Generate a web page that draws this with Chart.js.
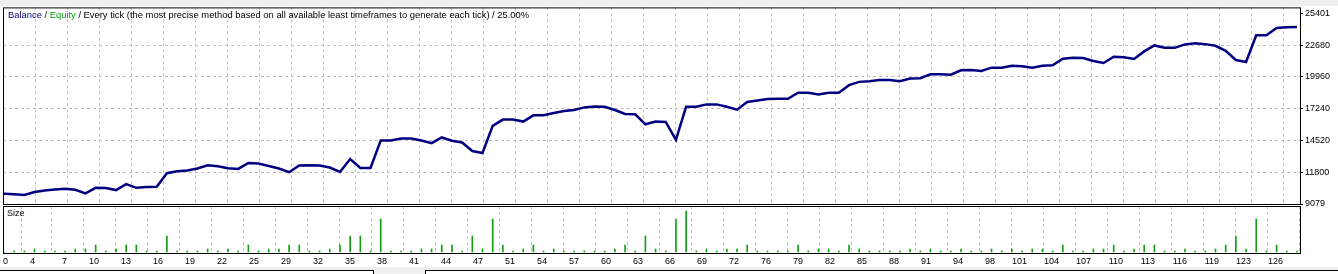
<!doctype html>
<html lang="en">
  <head>
    <meta charset="utf-8">
    <title>Balance / Equity</title>
    <style>
      * {
        margin: 0;
        padding: 0;
      }
      body {
        width: 1338px;
        height: 274px;
        background: #ffffff;
        position: relative;
        overflow: hidden;
        font-family: 'Liberation Sans', sans-serif;
      }
      canvas {
        position: absolute;
        left: 0;
        top: 0;
      }
      .topBand {
        position: absolute;
        left: 0;
        top: 0;
        width: 1338px;
        height: 6px;
        background: #f0f0f0;
      }
      .bottomBand {
        position: absolute;
        left: 0;
        top: 267px;
        width: 1338px;
        height: 7px;
        background: #f0f0f0;
      }
      .tab {
        position: absolute;
        top: 270px;
        height: 10px;
        background: #ffffff;
        border: 1px solid #000000;
      }
      .label {
        position: absolute;
        font-size: 9px;
        line-height: 11px;
        white-space: nowrap;
        color: #000000;
        z-index: 2;
      }
    </style>
  </head>
  <body>
    <div class="topBand"></div>
    <canvas id="balanceChart" width="1338" height="274"></canvas>
    <canvas id="sizeChart" width="1338" height="274"></canvas>
    <div class="label" style="left:8px;top:9px;font-size:9.4px;">
      <span style="color:#000080">Balance</span> / <span style="color:#00a000">Equity</span> / Every tick (the most precise method based on all available least timeframes to generate each tick) / 25.00%
    </div>
    <div class="label" style="left:7px;top:208px;">Size</div>
    <div class="bottomBand"></div>
    <div class="tab" style="left:-1px;width:373px;"></div>
    <div class="tab" style="left:425px;width:920px;"></div>

    <script src="https://cdn.jsdelivr.net/npm/chart.js"></script>
    <script>
    // balance after each trade
    const balance = [
      9955, 9904, 9844, 10099, 10244, 10329, 10380, 10295, 9989, 10465,
      10439, 10269, 10779, 10465, 10524, 10550, 11714, 11884, 11944, 12114,
      12394, 12309, 12139, 12080, 12590, 12539, 12335, 12114, 11799, 12369,
      12394, 12369, 12199, 11825, 12930, 12165, 12165, 14520, 14520, 14690,
      14690, 14520, 14290, 14775, 14494, 14350, 13610, 13440, 15769, 16305,
      16305, 16135, 16670, 16670, 16875, 17045, 17129, 17350, 17435, 17410,
      17129, 16790, 16755, 15905, 16135, 16109, 14579, 17410, 17410, 17606,
      17606, 17410, 17155, 17810, 17946, 18065, 18090, 18090, 18600, 18600,
      18456, 18600, 18600, 19255, 19535, 19595, 19705, 19705, 19595, 19816,
      19850, 20190, 20190, 20150, 20530, 20555, 20470, 20751, 20751, 20921,
      20870, 20751, 20921, 20955, 21516, 21601, 21575, 21320, 21150, 21686,
      21635, 21490, 22145, 22655, 22451, 22451, 22740, 22851, 22766, 22621,
      22196, 21405, 21235, 23531, 23531, 24151, 24211, 24236
    ];

    // lot size of each trade
    const lots = [
      0, 0.1, 0.1, 0.3, 0.1, 0.1, 0.1, 0.3, 0.3, 0.7,
      0.1, 0.3, 0.7, 0.7, 0.1, 0.1, 1.6, 0.1, 0.1, 0.1,
      0.3, 0.1, 0.3, 0.1, 0.7, 0.1, 0.3, 0.3, 0.7, 0.7,
      0.1, 0.1, 0.3, 0.7, 1.6, 1.6, 0.1, 3.3, 0.1, 0.1,
      0.1, 0.3, 0.3, 0.7, 0.7, 0.1, 1.6, 0.3, 3.3, 0.7,
      0.1, 0.3, 0.7, 0.1, 0.3, 0.1, 0.1, 0.1, 0.1, 0.1,
      0.3, 0.7, 0.1, 1.6, 0.3, 0.1, 3.3, 4.1, 0.1, 0.3,
      0.1, 0.3, 0.3, 0.7, 0.1, 0.1, 0.1, 0.1, 0.7, 0.1,
      0.3, 0.3, 0.1, 0.7, 0.3, 0.1, 0.1, 0.1, 0.1, 0.3,
      0.1, 0.3, 0.1, 0.1, 0.3, 0.1, 0.1, 0.3, 0.1, 0.3,
      0.1, 0.3, 0.3, 0.1, 0.7, 0.1, 0.1, 0.3, 0.3, 0.7,
      0.1, 0.3, 0.7, 0.7, 0.1, 0.1, 0.3, 0.1, 0.1, 0.3,
      0.7, 1.6, 0.3, 3.3, 0.1, 0.7, 0.1, 0.1
    ];

    const xLabels = [
      '0', '4', '7', '10', '13', '16', '19', '22', '25', '29', '32', '35', '38', '41',
      '44', '47', '51', '54', '57', '60', '63', '66', '69', '72', '76', '79', '82',
      '85', '88', '91', '94', '98', '101', '104', '107', '110', '113', '116', '119',
      '123', '126'
    ];
    const yTicks = [9079, 11800, 14520, 17240, 19960, 22680, 25401];

    const X_MIN = -0.1;
    const X_MAX = 127.3;
    const X_STEP = 3.1434;   // trades between two vertical grid lines
    const GRID = '#c0c0c0';

    Chart.defaults.font.family = "'Liberation Sans', sans-serif";
    Chart.defaults.font.size = 9;
    Chart.defaults.color = '#000000';
    Chart.defaults.animation = false;

    const frame = {
      id: 'frame',
      afterDraw(chart) {
        const a = chart.chartArea;
        const ctx = chart.ctx;
        ctx.save();
        ctx.strokeStyle = '#000000';
        ctx.lineWidth = 1;
        ctx.strokeRect(a.left + 0.5, a.top + 0.5, a.right - a.left, a.bottom - a.top);
        ctx.restore();
      }
    };

    function xGridTicks(scale) {
      scale.ticks = xLabels.map((l, k) => ({ value: k === 0 ? 0.4 : k * X_STEP - 0.1 }));
    }

    const xGrid = {
      color: ctx => ctx.index === 0 ? 'rgba(0,0,0,0)' : GRID,
      drawTicks: false,
      lineWidth: 1
    };

    new Chart(document.getElementById('balanceChart'), {
      type: 'line',
      data: {
        datasets: [{
          data: balance.map((v, i) => ({ x: i, y: v })),
          borderColor: '#000080',
          borderWidth: 2.5,
          pointRadius: 0,
          tension: 0,
          fill: false
        }]
      },
      options: {
        responsive: false,
        layout: { padding: { left: 3, top: 6, right: 0, bottom: 70 } },
        plugins: { legend: { display: false }, tooltip: { enabled: false } },
        scales: {
          x: {
            type: 'linear',
            min: X_MIN,
            max: X_MAX,
            afterBuildTicks: xGridTicks,
            ticks: { display: false },
            grid: xGrid,
            border: { display: false, dash: [3, 3] },
            afterFit: s => { s.height = 0; }
          },
          y: {
            position: 'right',
            min: 9079,
            max: 25911,
            afterBuildTicks: s => { s.ticks = yTicks.map(v => ({ value: v })); },
            ticks: { padding: 2, callback: v => String(v) },
            grid: {
              color: ctx => (ctx.index === 0 || ctx.index === yTicks.length - 1) ? 'rgba(0,0,0,0)' : GRID,
              tickColor: '#000000',
              tickLength: 3,
              tickBorderDash: [],
              lineWidth: 1
            },
            border: { display: false, dash: [3, 3] },
            afterFit: s => { s.width = 38; }
          }
        }
      },
      plugins: [frame]
    });

    new Chart(document.getElementById('sizeChart'), {
      type: 'bar',
      data: {
        datasets: [{
          data: lots.map((v, i) => ({ x: i, y: v })),
          backgroundColor: '#12a012',
          barThickness: 1,
          borderWidth: 0
        }]
      },
      options: {
        responsive: false,
        layout: { padding: { left: 3, top: 206, right: 38, bottom: 0 } },
        plugins: { legend: { display: false }, tooltip: { enabled: false } },
        scales: {
          x: {
            type: 'linear',
            offset: false,
            min: X_MIN,
            max: X_MAX,
            afterBuildTicks: xGridTicks,
            ticks: {
              autoSkip: false,
              maxRotation: 0,
              minRotation: 0,
              align: 'end',
              padding: 3,
              callback: (v, i) => xLabels[i]
            },
            grid: xGrid,
            border: { display: false, dash: [3, 3] },
            afterFit: s => { s.height = 21; }
          },
          y: {
            display: false,
            min: -0.1,
            max: 4.6
          }
        }
      },
      plugins: [frame]
    });
    </script>
  </body>
</html>
